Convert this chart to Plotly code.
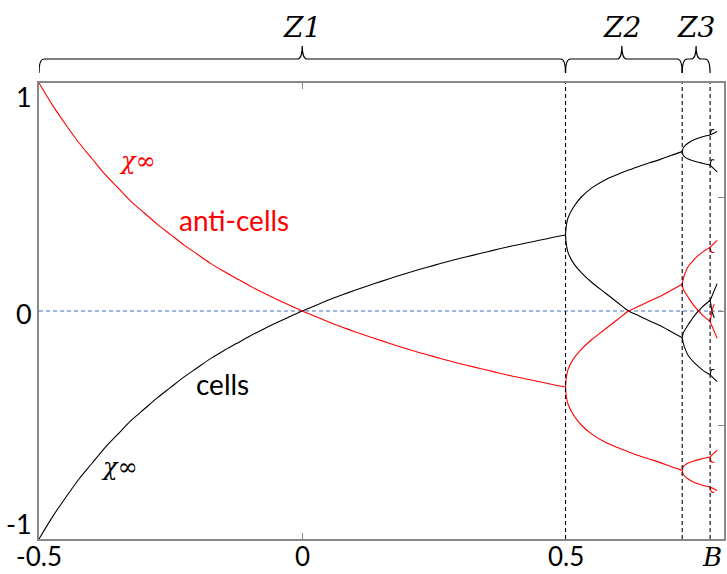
import plotly.graph_objects as go

# ---- control parameter values and branch values -------------------------
# Zone Z1: single fixed point
b_z1 = [-0.5, -0.475, -0.45, -0.425, -0.4, -0.375, -0.35, -0.325, -0.3, -0.275, -0.25,
        -0.225, -0.2, -0.175, -0.15, -0.125, -0.1, -0.075, -0.05, -0.025, 0.0,
        0.025, 0.05, 0.075, 0.1, 0.125, 0.15, 0.175, 0.2, 0.225, 0.25,
        0.275, 0.3, 0.325, 0.35, 0.375, 0.4, 0.425, 0.45, 0.475, 0.5]
cells_z1 = [-1.0, -0.905, -0.82, -0.74, -0.67, -0.6, -0.54, -0.48, -0.43, -0.38, -0.335,
            -0.29, -0.25, -0.21, -0.175, -0.143, -0.111, -0.081, -0.053, -0.026, 0.0,
            0.024, 0.048, 0.07, 0.091, 0.111, 0.13, 0.149, 0.167, 0.184, 0.2,
            0.216, 0.231, 0.245, 0.259, 0.273, 0.286, 0.298, 0.31, 0.322, 0.333]
anti_z1 = [1.0, 0.905, 0.82, 0.74, 0.67, 0.6, 0.54, 0.48, 0.43, 0.38, 0.335,
           0.29, 0.25, 0.21, 0.175, 0.143, 0.111, 0.081, 0.053, 0.026, 0.0,
           -0.024, -0.048, -0.07, -0.091, -0.111, -0.13, -0.149, -0.167, -0.184, -0.2,
           -0.216, -0.231, -0.245, -0.259, -0.273, -0.286, -0.298, -0.31, -0.322, -0.333]

# Zone Z2: period-2 branches
b_z2 = [0.5, 0.5015, 0.505, 0.515, 0.53, 0.55, 0.575, 0.6, 0.62, 0.64, 0.66, 0.68, 0.7, 0.7216]
cells_z2_hi = [0.333, 0.375, 0.41, 0.455, 0.5, 0.54, 0.575, 0.6, 0.618, 0.635, 0.65, 0.665, 0.682, 0.699]
cells_z2_lo = [0.333, 0.292, 0.255, 0.21, 0.168, 0.125, 0.08, 0.035, 0.0, -0.022, -0.044, -0.065, -0.09, -0.117]
anti_z2_hi = [-0.333, -0.292, -0.255, -0.21, -0.168, -0.125, -0.08, -0.035, 0.0, 0.022, 0.044, 0.065, 0.09, 0.117]
anti_z2_lo = [-0.333, -0.375, -0.41, -0.455, -0.5, -0.54, -0.575, -0.6, -0.618, -0.635, -0.65, -0.665, -0.682, -0.699]

# Zone Z3: period-4 branches
b_z3 = [0.7216, 0.7235, 0.727, 0.733, 0.745, 0.76, 0.7746]
cells_z3 = [
    [0.699, 0.715, 0.725, 0.737, 0.752, 0.764, 0.772],
    [0.699, 0.683, 0.675, 0.667, 0.657, 0.648, 0.64],
    [-0.117, -0.097, -0.082, -0.06, -0.02, 0.018, 0.046],
    [-0.117, -0.14, -0.165, -0.195, -0.228, -0.258, -0.28],
]
anti_z3 = [
    [-0.699, -0.715, -0.725, -0.737, -0.752, -0.764, -0.772],
    [-0.699, -0.683, -0.675, -0.667, -0.657, -0.648, -0.64],
    [0.117, 0.097, 0.082, 0.06, 0.02, -0.018, -0.046],
    [0.117, 0.14, 0.165, 0.195, 0.228, 0.258, 0.28],
]

# Beyond the third threshold: continuing arm and short hook of each branch
b_arm = [0.7746, 0.788]
cells_arm = [[0.772, 0.787], [0.64, 0.61], [0.046, 0.12], [-0.28, -0.31]]
anti_arm = [[-0.772, -0.787], [-0.64, -0.61], [-0.046, -0.12], [0.28, 0.31]]
b_hook = [0.7746, 0.776, 0.778, 0.7825]
cells_hook = [[0.772, 0.787, 0.795, 0.795], [0.64, 0.655, 0.663, 0.663],
              [0.046, 0.03, 0.0, -0.03], [-0.28, -0.265, -0.257, -0.257]]
anti_hook = [[-0.772, -0.787, -0.795, -0.795], [-0.64, -0.655, -0.663, -0.663],
             [-0.046, -0.03, 0.0, 0.03], [0.28, 0.265, 0.257, 0.257]]

# zone boundaries and brace tips
thresholds = [0.5, 0.7216, 0.7746]
zones = ["Z1", "Z2", "Z3"]
zone_edges = [(-0.5, 0.5), (0.5, 0.7216), (0.7216, 0.7746)]
zone_tips = [0.0, 0.607, 0.748]

x_ticks = [-0.5, 0.0, 0.5]
x_tick_text = ["-0.5", "0", "0.5"]
y_ticks = [1, 0, -1]
y_tick_text = ["1", "0", "-1"]

X_MIN, X_MAX = -0.5, 0.801
RED, BLACK = "#ff0000", "#000000"
LW = 1.1
MATH_FONT = "DejaVu Serif"

fig = go.Figure()


def add_line(x, y, color):
    fig.add_trace(go.Scatter(x=x, y=y, mode="lines",
                             line=dict(color=color, width=LW, shape="spline", smoothing=0.8),
                             hoverinfo="skip", showlegend=False))


# horizontal reference at zero
fig.add_trace(go.Scatter(x=[X_MIN, X_MAX], y=[0, 0], mode="lines",
                         line=dict(color="#7f9fd8", width=1.3, dash="4px,3px"),
                         hoverinfo="skip", showlegend=False))

add_line(b_z1, cells_z1, BLACK)
add_line(b_z1, anti_z1, RED)
add_line(b_z2, cells_z2_hi, BLACK)
add_line(b_z2, cells_z2_lo, BLACK)
add_line(b_z2, anti_z2_hi, RED)
add_line(b_z2, anti_z2_lo, RED)
for ys in cells_z3:
    add_line(b_z3, ys, BLACK)
for ys in anti_z3:
    add_line(b_z3, ys, RED)
for ys in cells_arm:
    add_line(b_arm, ys, BLACK)
for ys in anti_arm:
    add_line(b_arm, ys, RED)
for ys in cells_hook:
    add_line(b_hook, ys, BLACK)
for ys in anti_hook:
    add_line(b_hook, ys, RED)

# vertical dashed zone boundaries
for t in thresholds:
    fig.add_shape(type="line", x0=t, x1=t, y0=-1, y1=1, xref="x", yref="y",
                  line=dict(color=BLACK, width=1.1, dash="4px,3px"))

# braces above the plot area (paper y: 0 = bottom, 1 = top of plot area)
PLOT_H = 456.0
PX_PER_B = 528.0


def py(px_above_top):
    return 1.0 + px_above_top / PLOT_H


def brace_path(x0, x1, xm):
    r = 5.0 / PX_PER_B
    y_end, y_bar, y_tip = py(10), py(24), py(37)
    return (f"M {x0},{y_end} Q {x0},{y_bar} {x0 + r},{y_bar} "
            f"L {xm - r},{y_bar} Q {xm},{y_bar} {xm},{y_tip} "
            f"Q {xm},{y_bar} {xm + r},{y_bar} "
            f"L {x1 - r},{y_bar} Q {x1},{y_bar} {x1},{y_end}")


for (x0, x1), xm, name in zip(zone_edges, zone_tips, zones):
    fig.add_shape(type="path", path=brace_path(x0, x1, xm), xref="x", yref="paper",
                  line=dict(color=BLACK, width=1.2))
    fig.add_annotation(x=xm, y=py(55), xref="x", yref="paper", text=name, showarrow=False,
                       font=dict(family=MATH_FONT, size=28, color=BLACK, style="italic"),
                       xanchor="center", yanchor="middle")

# tick labels
LABEL_FONT = dict(family="Lato", size=26, color=BLACK)
for v, t in zip(x_ticks, x_tick_text):
    fig.add_annotation(x=v, y=0, xref="x", yref="paper", text=t, showarrow=False,
                       font=LABEL_FONT, xanchor="center", yanchor="middle", yshift=-17)
fig.add_annotation(x=1, y=0, xref="paper", yref="paper", text="B", showarrow=False,
                   font=dict(family=MATH_FONT, size=26, color=BLACK, style="italic"),
                   xanchor="right", yanchor="middle", yshift=-18, xshift=0)
y_label_shift = {1: -13, 0: -2, -1: 16}
for v, t in zip(y_ticks, y_tick_text):
    fig.add_annotation(x=0, y=v, xref="paper", yref="y", text=t, showarrow=False,
                       font=dict(family="Lato", size=27, color=BLACK),
                       xanchor="right", yanchor="middle", xshift=-5, yshift=y_label_shift[v])

# curve labels
fig.add_annotation(x=-0.313, y=0.66, text="χ∞", showarrow=False,
                   font=dict(family=MATH_FONT, size=24, color=RED, style="italic"))
fig.add_annotation(x=-0.13, y=0.40, text="anti-cells", showarrow=False,
                   font=dict(family="Lato", size=28, color=RED))
fig.add_annotation(x=-0.151, y=-0.32, text="cells", showarrow=False,
                   font=dict(family="Lato", size=28, color=BLACK))
fig.add_annotation(x=-0.348, y=-0.685, text="χ∞", showarrow=False,
                   font=dict(family=MATH_FONT, size=24, color=BLACK, style="italic"))

fig.update_layout(
    width=727, height=574,
    margin=dict(l=39, r=1, t=83, b=35),
    paper_bgcolor="white", plot_bgcolor="white",
    xaxis=dict(range=[X_MIN, X_MAX], showgrid=False, zeroline=False,
               showline=True, linecolor="#888888", linewidth=1.5, mirror="ticks",
               ticks="inside", tickvals=[0.0], ticklen=6, tickcolor="#888888",
               showticklabels=False),
    yaxis=dict(range=[-1, 1], showgrid=False, zeroline=False,
               showline=True, linecolor="#888888", linewidth=1.5, mirror=True,
               ticks="", showticklabels=False),
    yaxis2=dict(range=[-1, 1], overlaying="y", side="right", showgrid=False, zeroline=False,
                ticks="inside", tickvals=[-0.5, 0, 0.5], ticklen=6, tickcolor="#888888",
                showticklabels=False, showline=False),
)
# a blank trace so the right-hand axis is drawn
fig.add_trace(go.Scatter(x=[None], y=[None], yaxis="y2", showlegend=False, hoverinfo="skip"))

fig.write_html("out.html")
